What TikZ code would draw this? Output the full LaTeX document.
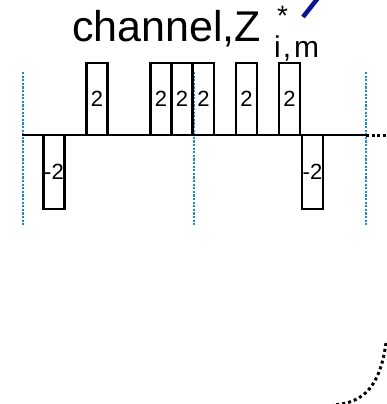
\documentclass[tikz,border=0pt]{standalone}
\usepackage{fontspec}
\setmainfont{Liberation Sans}
\definecolor{guide}{RGB}{20,140,215}
\definecolor{navy}{RGB}{10,20,140}
\begin{document}
\begin{tikzpicture}[x=1pt,y=-1pt,
  pbox/.style={draw=black,line width=2.6pt,minimum width=21pt,minimum height=72pt,inner sep=0pt,font=\fontsize{22}{22}\selectfont},
  nbox/.style={draw=black,line width=2.6pt,minimum width=21pt,minimum height=74pt,inner sep=0pt,font=\fontsize{22}{22}\selectfont},
  guideline/.style={draw=guide,line width=2.6pt,dash pattern=on 2.2pt off 1.4pt},
  axis/.style={draw=black,line width=2.8pt}]
\useasboundingbox (0,0) rectangle (386,404);
% title
\node[anchor=base west,inner sep=0pt,font=\fontsize{43}{43}\selectfont] (title) at (72,42) {channel,Z};
\node[anchor=base west,inner sep=0pt,font=\fontsize{28}{28}\selectfont] (sup) at (277,26) {*};
\node[anchor=base west,inner sep=0pt,font=\fontsize{30}{30}\selectfont] (sub) at (274,57) {i\kern2pt,\kern3pt m};
\coordinate (n1) at (303,17);
\coordinate (n2) at (318,-2);
\draw[navy,line width=4.5pt] (n1) -- (n2);
% guide lines
\coordinate (g1t) at (23,72); \coordinate (g1b) at (23,226);
\coordinate (g2t) at (194,72); \coordinate (g2b) at (194,226);
\coordinate (g3t) at (366,72); \coordinate (g3b) at (366,226);
\draw[guideline] (g1t) -- (g1b);
\draw[guideline] (g2t) -- (g2b);
\draw[guideline] (g3t) -- (g3b);
% axis
\coordinate (a0) at (22,135);
\coordinate (a1) at (366,135);
\coordinate (a2) at (386,135);
\draw[axis] (a0) -- (a1);
\draw[black,line width=3pt,dash pattern=on 3pt off 2.5pt] (a1) -- (a2);
% positive pulses
\node[pbox] (p1) at (97,99) {2};
\node[pbox] (p2) at (161,99) {2};
\node[pbox] (p3) at (182,99) {2};
\node[pbox] (p4) at (203.5,99) {2};
\node[pbox] (p5) at (246.5,99) {2};
\node[pbox] (p6) at (289.5,99) {2};
% negative pulses
\node[nbox] (m1) at (54,172) {-2};
\node[nbox] (m2) at (312.5,172) {-2};
% dotted curve
\coordinate (c0) at (386,343);
\coordinate (c1) at (333,405);
\draw[black,line width=3pt,dash pattern=on 3pt off 3pt] (c0) .. controls (380,385) and (365,403) .. (c1);
\end{tikzpicture}
\end{document}
